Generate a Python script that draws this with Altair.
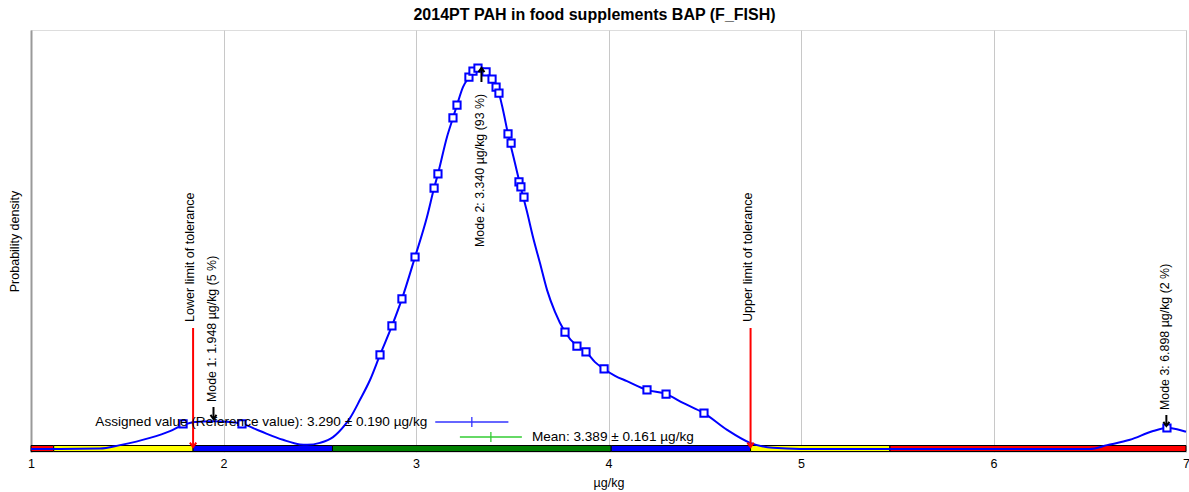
import altair as alt
import pandas as pd

# ---- data ----
curve_x = [1.000, 1.151, 1.358, 1.462, 1.618, 1.722, 1.790, 1.852, 1.945, 2.034, 2.096, 2.190,
           2.309, 2.397, 2.434, 2.501, 2.569, 2.631, 2.657, 2.709, 2.761, 2.813, 2.875, 2.927,
           2.995, 3.057, 3.094, 3.114, 3.161, 3.192, 3.213, 3.244, 3.275, 3.306, 3.332, 3.364,
           3.395, 3.431, 3.452, 3.478, 3.514, 3.545, 3.577, 3.608, 3.644, 3.681, 3.722, 3.774,
           3.836, 3.883, 3.930, 3.977, 4.034, 4.096, 4.200, 4.299, 4.387, 4.496, 4.616, 4.735,
           4.855, 4.995, 5.514, 6.034, 6.501, 6.590, 6.709, 6.829, 6.901, 6.953, 7.000]
curve_y = [0.000, 0.000, 0.001, 0.010, 0.029, 0.047, 0.063, 0.071, 0.073, 0.071, 0.066, 0.047,
           0.024, 0.012, 0.011, 0.016, 0.031, 0.063, 0.081, 0.129, 0.181, 0.247, 0.323, 0.394,
           0.504, 0.609, 0.685, 0.722, 0.819, 0.869, 0.903, 0.950, 0.976, 0.997, 1.003, 0.992,
           0.971, 0.934, 0.890, 0.827, 0.751, 0.685, 0.622, 0.556, 0.488, 0.417, 0.360, 0.307,
           0.270, 0.255, 0.228, 0.210, 0.192, 0.178, 0.155, 0.144, 0.121, 0.094, 0.050, 0.016,
           0.003, 0.000, 0.000, 0.000, 0.000, 0.010, 0.024, 0.047, 0.055, 0.052, 0.045]

result_x = [1.790, 2.096, 2.813, 2.875, 2.927, 2.995, 3.094, 3.114, 3.192, 3.213, 3.275, 3.296,
            3.322, 3.364, 3.395, 3.416, 3.431, 3.478, 3.494, 3.535, 3.545, 3.561, 3.774, 3.836,
            3.883, 3.977, 4.200, 4.299, 4.496, 6.901]
result_y = [0.066, 0.066, 0.247, 0.323, 0.394, 0.504, 0.685, 0.722, 0.869, 0.903, 0.976, 0.992,
            1.000, 0.990, 0.971, 0.950, 0.934, 0.827, 0.803, 0.701, 0.688, 0.661, 0.307, 0.270,
            0.255, 0.210, 0.155, 0.144, 0.094, 0.055]

band_edges = [1.0, 1.118, 1.842, 2.566, 4.014, 4.738, 5.462, 7.0]
band_colors = ["#ff0000", "#ffff00", "#0000ff", "#008000", "#0000ff", "#ffff00", "#ff0000"]

tol_limits = [1.842, 4.738]
tol_labels = ["Lower limit of tolerance", "Upper limit of tolerance"]

mode_values = [1.948, 3.340, 6.898]
mode_shares = [5, 93, 2]

assigned, assigned_u = 3.290, 0.190
mean_v, mean_u = 3.389, 0.161

x_ticks = [1, 2, 3, 4, 5, 6, 7]

TITLE = "2014PT PAH in food supplements BAP (F_FISH)"
FONT = "Liberation Sans"

# ---- tables ----
curve_df = pd.DataFrame({"x": curve_x, "y": curve_y})
res_df = pd.DataFrame({"x": result_x, "y": result_y})
band_df = pd.DataFrame({"x": band_edges[:-1], "x2": band_edges[1:], "c": band_colors})
tol_df = pd.DataFrame({"x": tol_limits, "label": tol_labels})
modes_df = pd.DataFrame({
    "x": mode_values,
    "label": [f"Mode {i + 1}: {v:.3f} µg/kg ({p} %)" for i, (v, p) in enumerate(zip(mode_values, mode_shares))],
})
assigned_df = pd.DataFrame({"lo": [assigned - assigned_u], "hi": [assigned + assigned_u], "c": [assigned],
                            "label": [f"Assigned value (Reference value): {assigned:.3f} ± {assigned_u:.3f} µg/kg"]})
mean_df = pd.DataFrame({"lo": [mean_v - mean_u], "hi": [mean_v + mean_u], "c": [mean_v],
                        "label": [f"Mean: {mean_v:.3f} ± {mean_u:.3f} µg/kg"]})
title_df = pd.DataFrame({"t": [TITLE]})

xs = alt.Scale(domain=[1, 7], nice=False, zero=False)
ys = alt.Scale(domain=[-0.008, 1.1], nice=False, zero=False)

X = lambda f: alt.X(f, type="quantitative", scale=xs,
                    axis=alt.Axis(values=x_ticks, title="µg/kg", grid=True, gridColor="#c8c8c8",
                                  ticks=False, tickSize=0, domain=False, labelFlush=False,
                                  labelPadding=5, labelFontSize=12.5, labelFont=FONT, labelColor="#000",
                                  titleFont=FONT, titleFontSize=12.5, titleFontWeight="normal",
                                  titleColor="#000", titleX=577.5, titleY=30, titleBaseline="middle",
                                  format="d"))

base_y = alt.Y("y:Q", scale=ys,
               axis=alt.Axis(title="Probability density", labels=False, ticks=False, grid=False,
                             domain=True, domainColor="#999999", domainWidth=2,
                             titleFont=FONT, titleFontSize=12.5, titleFontWeight="normal",
                             titleColor="#000", titleX=-17, titleY=211, titleAngle=270,
                             titleAlign="center", titleBaseline="middle"))

curve = alt.Chart(curve_df).mark_line(color="#0000ff", strokeWidth=2, interpolate="monotone").encode(
    x=X("x"), y=base_y)

band = alt.Chart(band_df).mark_rect(stroke="#000000", strokeWidth=1).encode(
    x=alt.X("x:Q", scale=xs), x2="x2:Q", y=alt.value(415.5), y2=alt.value(421.5),
    color=alt.Color("c:N", scale=None))

markers = alt.Chart(res_df).mark_point(shape="square", filled=True, fill="white", stroke="#0000ff",
                                       strokeWidth=2, size=52, opacity=1).encode(
    x=alt.X("x:Q", scale=xs), y=alt.Y("y:Q", scale=ys))

tol_rule = alt.Chart(tol_df).mark_rule(color="#ff0000", strokeWidth=2).encode(
    x=alt.X("x:Q", scale=xs), y=alt.value(298), y2=alt.value(416))
tol_head = alt.Chart(tol_df).mark_point(shape="M-1,-1.4L0,0L1,-1.4", filled=False, stroke="#ff0000",
                                        strokeWidth=2, size=40, opacity=1).encode(
    x=alt.X("x:Q", scale=xs), y=alt.value(417))
tol_text = alt.Chart(tol_df).mark_text(angle=270, align="left", baseline="middle", font=FONT,
                                       fontSize=12.6, color="#000", dy=-3).encode(
    x=alt.X("x:Q", scale=xs), y=alt.value(292), text="label:N")

def mode_layer(i, text_y, rule_y1, rule_y2, tip_y, up):
    d = modes_df.iloc[[i]]
    shape = "M-1,1.4L0,0L1,1.4" if up else "M-1,-1.4L0,0L1,-1.4"
    t = alt.Chart(d).mark_text(angle=270, align="left", baseline="middle", font=FONT, fontSize=12.4,
                               color="#000", dy=-1).encode(
        x=alt.X("x:Q", scale=xs), y=alt.value(text_y), text="label:N")
    r = alt.Chart(d).mark_rule(color="#000", strokeWidth=2).encode(
        x=alt.X("x:Q", scale=xs), y=alt.value(rule_y1), y2=alt.value(rule_y2))
    h = alt.Chart(d).mark_point(shape=shape, filled=False, stroke="#000", strokeWidth=2, size=36,
                                opacity=1).encode(x=alt.X("x:Q", scale=xs), y=alt.value(tip_y))
    return [t, r, h]

mode_layers = (mode_layer(0, 372, 377, 389, 389, False)
               + mode_layer(1, 217, 38, 52, 38, True)
               + mode_layer(2, 380, 385, 396, 396, False))

def errbar(df, yv, color, text_side):
    line = alt.Chart(df).mark_rule(color=color, strokeWidth=1.3).encode(
        x=alt.X("lo:Q", scale=xs), x2="hi:Q", y=alt.value(yv))
    tick = alt.Chart(df).mark_rule(color=color, strokeWidth=1.3).encode(
        x=alt.X("c:Q", scale=xs), y=alt.value(yv - 5), y2=alt.value(yv + 5))
    if text_side == "left":
        txt = alt.Chart(df).mark_text(align="right", baseline="middle", font=FONT, fontSize=13.6,
                                      color="#000", dx=-8).encode(
            x=alt.X("lo:Q", scale=xs), y=alt.value(yv), text="label:N")
    else:
        txt = alt.Chart(df).mark_text(align="left", baseline="middle", font=FONT, fontSize=13.6,
                                      color="#000", dx=10).encode(
            x=alt.X("hi:Q", scale=xs), y=alt.value(yv), text="label:N")
    return [line, tick, txt]

err_layers = errbar(assigned_df, 392, "#3333ff", "left") + errbar(mean_df, 407, "#33cc33", "right")

title = alt.Chart(title_df).mark_text(align="center", baseline="alphabetic", font=FONT, fontSize=16,
                                      fontWeight="bold", color="#000").encode(
    x=alt.value(563.5), y=alt.value(-10), text="t:N")

chart = alt.layer(
    band, curve, markers, tol_rule, tol_head, tol_text, *mode_layers, *err_layers, title
).properties(
    width=1155, height=422,
    autosize=alt.AutoSizeParams(type="none"),
    padding={"left": 31, "top": 30, "right": 3, "bottom": 40},
).configure_view(stroke="#c8c8c8", strokeWidth=2).configure(background="white")

chart.save("out.html", embed_options={"renderer": "svg", "actions": False})
